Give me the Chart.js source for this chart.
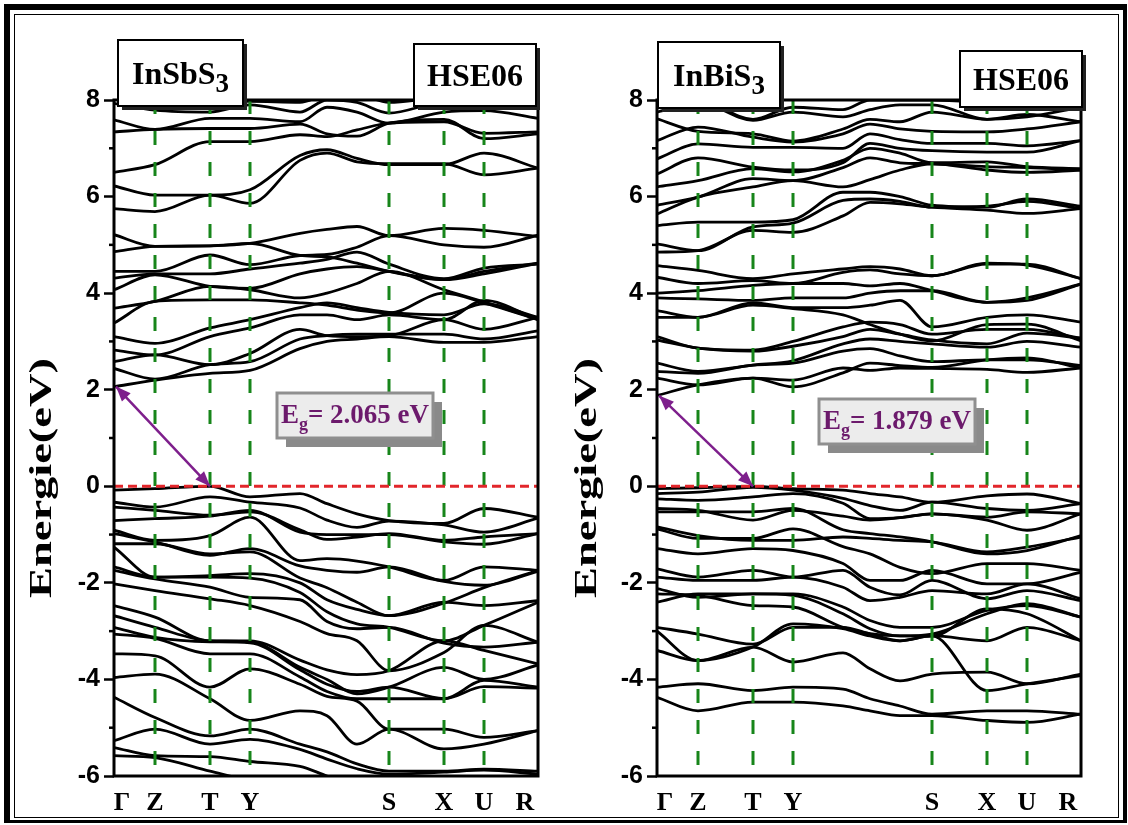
<!DOCTYPE html>
<html lang="en">
<head>
<meta charset="UTF-8">
<title>InSbS3 / InBiS3 HSE06 band structure</title>
<script src="https://cdn.jsdelivr.net/npm/chart.js"></script>
<style>
  body { margin: 0; background: #fff; width: 1128px; height: 825px; overflow: hidden; position: relative; }
  .outer { position: absolute; left: 4px; top: 4px; width: 1123px; height: 819px; box-sizing: border-box;
           border-style: solid; border-color: #000; border-width: 6px 4px 3px 6px; }
  .inner { position: absolute; left: 14px; top: 14px; width: 1105px; height: 804px; box-sizing: border-box;
           border: 1.5px solid #000; }
  canvas { position: absolute; top: 20px; }
  #left { left: 20px; }
  #right { left: 563px; }
</style>
</head>
<body>
<div class="outer"></div>
<div class="inner"></div>
<canvas id="left" width="528" height="795"></canvas>
<canvas id="right" width="528" height="795"></canvas>

<script>
  // k-path samples (Γ, Z, T, Y, three points on Y-S, S, X, U, R)
  const kPath = [0, 41, 96, 136, 186, 213, 243, 275, 330, 370, 424];
  const kTicks = [0, 41, 96, 136, 275, 330, 370, 424];
  const kLabels = ['Γ', 'Z', 'T', 'Y', 'S', 'X', 'U', 'R'];

  // InSbS3 conduction bands (eV)
  const cbInSbS3 = [
    [2.06, 2.20, 2.34, 2.40, 2.85, 3.00, 3.05, 3.10, 2.98, 2.98, 3.10],
    [2.44, 2.22, 2.52, 2.58, 3.05, 3.12, 3.15, 3.15, 3.15, 3.05, 3.22],
    [2.58, 2.72, 2.52, 2.75, 3.25, 3.12, 3.10, 3.12, 3.45, 3.25, 3.50],
    [2.82, 2.72, 3.10, 3.28, 3.55, 3.55, 3.45, 3.55, 3.45, 3.85, 3.45],
    [3.10, 2.96, 3.28, 3.45, 3.70, 3.80, 3.70, 3.60, 3.55, 3.78, 3.50],
    [3.38, 3.83, 3.86, 3.86, 3.80, 3.75, 3.65, 3.59, 4.00, 3.80, 3.45],
    [3.69, 3.83, 4.14, 4.07, 3.90, 4.00, 4.20, 4.45, 4.07, 3.82, 3.46],
    [4.07, 4.38, 4.14, 4.10, 4.40, 4.50, 4.55, 4.45, 4.28, 4.45, 4.62],
    [4.31, 4.40, 4.40, 4.50, 4.62, 4.70, 4.85, 4.60, 4.30, 4.52, 4.60],
    [4.45, 4.45, 4.79, 4.59, 4.78, 4.80, 4.95, 5.19, 5.00, 4.95, 5.20],
    [4.86, 4.97, 4.98, 5.03, 4.78, 4.75, 4.62, 4.45, 4.28, 4.40, 4.62],
    [5.21, 4.97, 4.98, 5.03, 5.24, 5.32, 5.38, 5.19, 5.34, 5.30, 5.17],
    [5.75, 5.69, 6.03, 5.86, 6.75, 6.90, 6.72, 6.68, 6.68, 6.45, 6.59],
    [6.22, 6.03, 6.03, 6.14, 6.85, 6.97, 6.79, 6.66, 6.66, 6.90, 6.59],
    [6.50, 6.66, 7.14, 7.14, 7.28, 7.24, 7.38, 7.52, 7.55, 7.31, 7.34],
    [7.34, 7.39, 7.41, 7.41, 7.50, 7.30, 7.25, 7.52, 7.60, 7.20, 7.30],
    [7.59, 7.39, 7.62, 7.62, 7.55, 7.85, 7.75, 7.52, 7.75, 7.78, 7.62],
    [7.93, 7.79, 7.75, 7.90, 7.75, 8.00, 7.95, 7.73, 7.95, 7.88, 7.93],
    [8.05, 7.97, 7.97, 7.97, 7.95, 8.10, 8.10, 7.95, 8.05, 7.95, 8.00]
  ];

  // InSbS3 valence bands (eV)
  const vbInSbS3 = [
    [-0.08, -0.05, 0.00, -0.22, -0.15, -0.36, -0.57, -0.71, -0.77, -0.46, -0.64],
    [-0.33, -0.43, -0.22, -0.33, -0.45, -0.70, -0.85, -0.72, -0.80, -0.95, -0.66],
    [-0.43, -0.50, -0.60, -0.53, -0.90, -1.10, -1.05, -0.98, -1.12, -1.05, -0.98],
    [-0.71, -0.67, -0.62, -0.50, -0.95, -1.00, -1.00, -1.00, -1.15, -1.20, -0.98],
    [-0.91, -1.12, -1.02, -0.64, -1.54, -1.50, -1.55, -1.67, -1.95, -1.67, -1.74],
    [-0.98, -1.15, -1.43, -1.29, -1.65, -1.74, -1.78, -1.67, -1.97, -2.05, -1.76],
    [-1.19, -1.19, -1.40, -1.36, -1.90, -2.10, -2.40, -2.68, -2.40, -2.47, -2.37],
    [-1.26, -1.88, -1.85, -1.81, -2.00, -2.35, -2.55, -2.68, -2.42, -2.10, -1.74],
    [-1.67, -1.88, -1.88, -1.90, -2.20, -2.60, -2.85, -2.92, -3.20, -2.88, -2.40],
    [-1.74, -1.92, -2.09, -2.30, -2.35, -2.80, -2.95, -2.92, -3.25, -3.33, -3.23],
    [-2.02, -2.16, -2.33, -2.47, -2.80, -3.05, -3.20, -3.82, -3.44, -2.88, -3.23],
    [-2.47, -2.71, -3.20, -3.20, -3.60, -3.80, -3.90, -3.82, -3.20, -3.40, -3.68],
    [-2.68, -2.92, -3.20, -3.22, -3.75, -4.00, -4.30, -4.16, -3.75, -4.00, -3.70],
    [-2.92, -3.13, -3.22, -3.24, -3.80, -4.10, -4.25, -4.16, -4.40, -4.02, -4.16],
    [-3.06, -3.15, -3.47, -3.47, -3.95, -4.25, -4.40, -4.40, -4.40, -4.15, -4.18],
    [-3.47, -3.51, -4.16, -3.78, -4.10, -4.35, -4.45, -5.03, -5.03, -5.20, -5.06],
    [-3.96, -3.89, -4.40, -4.85, -4.65, -4.75, -5.34, -5.03, -5.44, -5.34, -5.06],
    [-4.37, -4.79, -5.17, -5.03, -5.34, -5.50, -5.75, -5.90, -5.90, -5.86, -5.90],
    [-5.27, -5.03, -5.34, -5.24, -5.45, -5.65, -5.85, -5.96, -5.92, -5.88, -5.96],
    [-5.41, -5.58, -5.60, -5.70, -5.80, -6.00, -6.20, -6.30, -6.30, -6.30, -6.30],
    [-5.58, -5.62, -5.90, -6.10, -6.30, -6.40, -6.40, -6.40, -6.40, -6.40, -6.40]
  ];

  // InBiS3 conduction bands (eV)
  const cbInBiS3 = [
    [1.88, 2.10, 2.24, 2.06, 2.35, 2.55, 2.50, 2.46, 2.62, 2.66, 2.45],
    [2.24, 2.10, 2.24, 2.20, 2.45, 2.40, 2.45, 2.44, 2.42, 2.36, 2.45],
    [2.38, 2.34, 2.51, 2.55, 2.80, 2.85, 2.70, 2.58, 2.62, 2.62, 2.50],
    [2.55, 2.38, 2.51, 2.60, 2.95, 3.05, 3.00, 2.95, 2.88, 3.00, 2.88],
    [3.03, 2.86, 2.80, 2.90, 3.10, 3.25, 3.15, 3.03, 2.95, 3.17, 3.07],
    [3.10, 2.86, 2.82, 3.00, 3.30, 3.40, 3.35, 3.15, 3.25, 3.25, 3.07],
    [3.50, 3.50, 3.75, 3.68, 3.55, 3.35, 3.15, 3.01, 3.35, 3.36, 3.01],
    [3.64, 3.50, 3.80, 3.70, 3.70, 3.75, 3.85, 3.30, 3.50, 3.55, 3.40],
    [3.90, 3.88, 3.85, 3.90, 3.90, 4.00, 4.05, 4.05, 3.81, 3.90, 4.19],
    [4.00, 4.05, 4.16, 4.20, 4.20, 4.15, 4.20, 4.05, 3.81, 3.85, 4.19],
    [4.33, 4.20, 4.26, 4.20, 4.43, 4.48, 4.40, 4.36, 4.60, 4.60, 4.30],
    [4.57, 4.47, 4.30, 4.40, 4.50, 4.55, 4.50, 4.36, 4.62, 4.58, 4.30],
    [4.85, 4.88, 5.30, 5.26, 5.60, 5.88, 5.85, 5.78, 5.72, 5.65, 5.75],
    [5.02, 4.88, 5.37, 5.45, 5.92, 5.95, 5.90, 5.78, 5.80, 5.90, 5.75],
    [5.40, 5.47, 5.47, 5.52, 6.09, 6.09, 6.00, 5.82, 5.78, 5.95, 5.80],
    [5.64, 5.99, 6.20, 6.33, 6.20, 6.35, 6.55, 6.68, 6.55, 6.50, 6.55],
    [5.82, 5.99, 6.37, 6.33, 6.60, 6.80, 6.70, 6.68, 6.62, 6.60, 6.55],
    [6.20, 6.33, 6.58, 6.51, 6.75, 7.00, 6.90, 6.70, 6.72, 6.62, 6.58],
    [6.47, 6.80, 6.61, 6.55, 6.70, 7.10, 7.00, 6.95, 6.92, 6.92, 7.16],
    [6.78, 7.09, 7.02, 7.02, 7.00, 7.30, 7.18, 7.10, 7.10, 7.05, 7.16],
    [7.16, 7.44, 7.23, 7.13, 7.30, 7.50, 7.40, 7.35, 7.34, 7.40, 7.55],
    [7.61, 7.35, 7.30, 7.15, 7.40, 7.60, 7.55, 7.75, 7.60, 7.70, 7.55],
    [7.75, 7.95, 7.58, 7.75, 7.65, 7.80, 7.90, 7.90, 7.60, 7.65, 7.85],
    [7.89, 8.00, 7.60, 7.85, 7.80, 8.00, 8.00, 8.00, 7.95, 7.90, 8.00]
  ];

  // InBiS3 valence bands (eV)
  const vbInBiS3 = [
    [-0.05, -0.03, 0.00, -0.05, -0.08, -0.15, -0.22, -0.33, -0.20, -0.16, -0.36],
    [-0.15, -0.12, -0.02, -0.08, -0.25, -0.40, -0.50, -0.33, -0.46, -0.50, -0.36],
    [-0.26, -0.29, -0.22, -0.15, -0.35, -0.67, -0.65, -0.57, -0.64, -0.53, -0.57],
    [-0.46, -0.50, -0.70, -0.50, -0.62, -0.70, -0.65, -0.57, -0.70, -0.91, -0.57],
    [-0.53, -0.53, -0.53, -0.46, -0.90, -0.98, -1.05, -1.15, -1.40, -1.33, -1.02],
    [-0.84, -1.02, -1.12, -1.12, -1.05, -1.08, -1.12, -1.15, -1.36, -1.26, -1.05],
    [-0.88, -1.08, -1.08, -0.88, -1.25, -1.40, -1.68, -1.81, -1.60, -1.60, -1.74],
    [-1.29, -1.40, -1.29, -1.33, -1.60, -1.95, -1.95, -1.74, -2.02, -2.02, -1.78],
    [-1.71, -1.88, -1.74, -1.88, -1.74, -2.09, -2.25, -1.95, -2.33, -2.16, -2.37],
    [-1.88, -1.95, -1.95, -1.88, -2.09, -2.37, -2.30, -2.16, -2.23, -2.02, -2.33],
    [-2.12, -2.30, -2.23, -2.23, -2.50, -2.78, -2.92, -2.92, -2.57, -2.47, -2.71],
    [-2.23, -2.26, -2.47, -2.50, -2.92, -3.05, -3.10, -3.06, -2.64, -2.43, -2.71],
    [-2.40, -2.23, -2.23, -2.26, -2.64, -2.95, -3.10, -3.10, -2.54, -2.64, -3.20],
    [-2.92, -3.06, -3.27, -2.92, -2.92, -3.06, -3.20, -3.10, -3.20, -2.92, -3.20],
    [-3.00, -3.61, -3.33, -3.64, -3.45, -3.78, -4.03, -3.89, -3.85, -4.09, -3.89],
    [-3.40, -3.61, -3.33, -2.85, -2.95, -3.10, -3.20, -3.10, -4.23, -4.09, -3.92],
    [-4.16, -4.09, -4.23, -4.16, -4.20, -4.40, -4.55, -4.72, -4.65, -4.65, -4.72],
    [-4.37, -4.65, -4.47, -4.47, -4.55, -4.65, -4.75, -4.75, -4.85, -4.89, -4.72]
  ];

  // band gap arrows: [k, E] from CBM to VBM
  const gapArrowInSbS3 = [[0, 2.065], [96, 0]];
  const gapArrowInBiS3 = [[0, 1.879], [96, 0]];

  function drawParts(ctx, parts, x, baseline, align) {
    let w = 0;
    parts.forEach(p => { ctx.font = p.font; w += ctx.measureText(p.t).width; });
    let cx = align === 'center' ? x - w / 2 : x;
    parts.forEach(p => {
      ctx.font = p.font;
      ctx.fillText(p.t, cx, baseline + (p.dy || 0));
      cx += ctx.measureText(p.t).width;
    });
  }

  function labelBox(ctx, x, y, w, h, parts) {
    ctx.fillStyle = '#222';
    ctx.fillRect(x + 4, y + 4, w, h);
    ctx.fillStyle = '#fff';
    ctx.fillRect(x, y, w, h);
    ctx.strokeStyle = '#000';
    ctx.lineWidth = 2;
    ctx.strokeRect(x, y, w, h);
    ctx.fillStyle = '#000';
    ctx.textAlign = 'left';
    ctx.textBaseline = 'alphabetic';
    drawParts(ctx, parts, x + w / 2, y + h / 2 + 11, 'center');
  }

  function arrowHead(ctx, x1, y1, x2, y2) {
    const a = Math.atan2(y2 - y1, x2 - x1);
    const len = 15, half = 6;
    ctx.beginPath();
    ctx.moveTo(x2, y2);
    ctx.lineTo(x2 - len * Math.cos(a) + half * Math.sin(a), y2 - len * Math.sin(a) - half * Math.cos(a));
    ctx.lineTo(x2 - len * Math.cos(a) - half * Math.sin(a), y2 - len * Math.sin(a) + half * Math.cos(a));
    ctx.closePath();
    ctx.fill();
  }

  function overlay(cfg) {
    return {
      id: 'overlay',
      afterDatasetsDraw(chart) {
        const { ctx, chartArea: a, scales: { x, y } } = chart;
        ctx.save();

        // dashed green lines at high-symmetry points
        ctx.strokeStyle = '#17851a';
        ctx.lineWidth = 3;
        ctx.setLineDash([14, 17]);
        kTicks.slice(1, -1).forEach(k => {
          const px = x.getPixelForValue(k);
          ctx.beginPath();
          ctx.moveTo(px, a.top);
          ctx.lineTo(px, a.bottom);
          ctx.stroke();
        });

        // Fermi level
        ctx.strokeStyle = '#e2262b';
        ctx.lineWidth = 3;
        ctx.setLineDash([9, 5]);
        const y0 = y.getPixelForValue(0);
        ctx.beginPath();
        ctx.moveTo(a.left, y0);
        ctx.lineTo(a.right, y0);
        ctx.stroke();
        ctx.setLineDash([]);

        // frame
        ctx.strokeStyle = '#000';
        ctx.lineWidth = 3;
        ctx.strokeRect(a.left, a.top, a.width, a.height);

        // minor ticks
        ctx.lineWidth = 2.5;
        for (let v = -5; v < 8; v += 2) {
          const py = y.getPixelForValue(v);
          ctx.beginPath();
          ctx.moveTo(a.left - 5, py);
          ctx.lineTo(a.left, py);
          ctx.stroke();
        }

        // gap arrow
        const [p1, p2] = cfg.arrow;
        const ax1 = x.getPixelForValue(p1[0]) + 2, ay1 = y.getPixelForValue(p1[1]);
        const ax2 = x.getPixelForValue(p2[0]), ay2 = y.getPixelForValue(p2[1]);
        ctx.strokeStyle = '#7e1f8c';
        ctx.fillStyle = '#7e1f8c';
        ctx.lineWidth = 2.5;
        ctx.beginPath();
        ctx.moveTo(ax1, ay1);
        ctx.lineTo(ax2, ay2);
        ctx.stroke();
        arrowHead(ctx, ax1, ay1, ax2, ay2);
        arrowHead(ctx, ax2, ay2, ax1, ay1);

        // Eg box
        const bx = a.left + cfg.egBox[0], by = a.top + cfg.egBox[1];
        const bw = 156, bh = 45;
        ctx.fillStyle = '#8a8a8a';
        ctx.fillRect(bx + 9, by + 9, bw, bh);
        ctx.fillStyle = '#ececec';
        ctx.fillRect(bx, by, bw, bh);
        ctx.strokeStyle = '#8f8f8f';
        ctx.lineWidth = 3;
        ctx.strokeRect(bx, by, bw, bh);
        ctx.fillStyle = '#6c1a6c';
        ctx.textAlign = 'left';
        ctx.textBaseline = 'alphabetic';
        drawParts(ctx, [
          { t: 'E', font: 'bold 27px "Liberation Serif"' },
          { t: 'g', font: 'bold 18px "Liberation Serif"', dy: 7 },
          { t: '= ' + cfg.gap + ' eV', font: 'bold 27px "Liberation Serif"' }
        ], bx + bw / 2, by + 30, 'center');

        // title boxes
        labelBox(ctx, a.left + cfg.nameBox[0], a.top + cfg.nameBox[1], cfg.nameBox[2], cfg.nameBox[3], [
          { t: cfg.name, font: 'bold 32px "Liberation Serif"' },
          { t: '3', font: 'bold 27px "Liberation Serif"', dy: 8 }
        ]);
        labelBox(ctx, a.left + cfg.hseBox[0], a.top + cfg.hseBox[1], cfg.hseBox[2], cfg.hseBox[3], [
          { t: 'HSE06', font: 'bold 32px "Liberation Serif"' }
        ]);

        // y title
        ctx.save();
        ctx.translate(a.left + cfg.titleDx, a.top + 378);
        ctx.rotate(-Math.PI / 2);
        ctx.font = 'bold 32px "Liberation Serif"';
        const tw = ctx.measureText('Energie(eV)').width;
        ctx.scale(240 / tw, 1);
        ctx.fillStyle = '#000';
        ctx.textAlign = 'center';
        ctx.fillText('Energie(eV)', 0, 0);
        ctx.restore();

        // k labels
        ctx.fillStyle = '#000';
        ctx.font = 'bold 26px "Liberation Serif"';
        ctx.textAlign = 'center';
        ctx.textBaseline = 'middle';
        kTicks.forEach((k, i) => {
          let px = x.getPixelForValue(k);
          if (i === 0) px += 8;
          if (i === kTicks.length - 1) px -= 13;
          ctx.fillText(kLabels[i], px, a.bottom + 27);
        });

        ctx.restore();
      }
    };
  }

  function makePanel(id, bands, cfg) {
    new Chart(document.getElementById(id), {
      type: 'line',
      data: {
        datasets: bands.map(b => ({
          data: b.map((e, i) => ({ x: kPath[i], y: e })),
          borderColor: '#000',
          borderWidth: 2.8,
          pointRadius: 0,
          fill: false,
          cubicInterpolationMode: 'monotone'
        }))
      },
      options: {
        responsive: false,
        animation: false,
        events: [],
        layout: { padding: { top: 80, bottom: 39, left: 0, right: 10 } },
        plugins: { legend: { display: false }, tooltip: { enabled: false } },
        scales: {
          x: { type: 'linear', min: 0, max: 424, display: false },
          y: {
            min: -6, max: 8,
            afterFit(scale) { scale.width = cfg.axisWidth; },
            ticks: { stepSize: 2, color: '#000', padding: 4, font: { family: 'Liberation Sans', size: 25, weight: 'bold' } },
            grid: { drawOnChartArea: false, drawTicks: true, tickLength: 10, tickWidth: 2.5, tickColor: '#000', color: '#000' },
            border: { display: false }
          }
        }
      },
      plugins: [overlay(cfg)]
    });
  }

  makePanel('left', cbInSbS3.concat(vbInSbS3), {
    axisWidth: 94, arrow: gapArrowInSbS3, gap: '2.065', egBox: [163, 293],
    name: 'InSbS', nameBox: [4, -60, 125, 66], hseBox: [300, -56, 122, 62], titleDx: -63
  });
  makePanel('right', cbInBiS3.concat(vbInBiS3), {
    axisWidth: 94, arrow: gapArrowInBiS3, gap: '1.879', egBox: [162, 299],
    name: 'InBiS', nameBox: [1, -58, 122, 66], hseBox: [303, -49, 122, 56], titleDx: -61
  });
</script>
</body>
</html>
